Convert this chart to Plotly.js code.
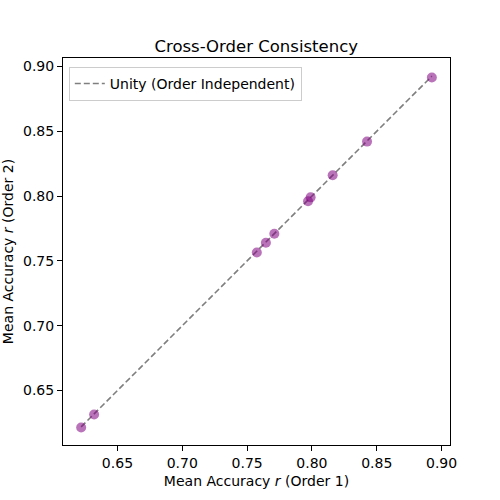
<!DOCTYPE html>
<html>
<head>
<meta charset="utf-8">
<script src="https://cdn.plot.ly/plotly-3.0.1.min.js"></script>
<style>body{margin:0;padding:0;background:#fff}</style>
</head>
<body>
<div id="graph" style="width:500px;height:500px"></div>
<script>
// mean accuracy r per model, order 1 vs order 2
var order1 = [0.622, 0.632, 0.7575, 0.7645, 0.771, 0.797, 0.799, 0.816, 0.8425, 0.8925];
var order2 = [0.6215, 0.6315, 0.7565, 0.764, 0.771, 0.796, 0.799, 0.816, 0.842, 0.8915];
var unityX = [0.622, 0.8925];
var xTicks = [0.65, 0.70, 0.75, 0.80, 0.85, 0.90];

var pts = {
    x: order1,
    y: order2,
    mode: 'markers',
    type: 'scatter',
    showlegend: false,
    marker: {color: 'rgba(128,0,128,0.55)', size: 10, line: {width: 0}}
};

var unity = {
    x: unityX,
    y: unityX,
    mode: 'lines',
    type: 'scatter',
    name: 'Unity (Order Independent)',
    line: {color: 'rgba(0,0,0,0.5)', width: 1.6, dash: '6px,3px'}
};

var axisBase = {
    range: [0.608, 0.9065],
    showgrid: false,
    zeroline: false,
    showline: true,
    linecolor: 'black',
    linewidth: 1,
    mirror: true,
    ticks: 'outside',
    ticklen: 5,
    tickcolor: 'black',
    tickvals: xTicks,
    tickformat: '.2f',
    tickfont: {size: 14, color: 'black'}
};

var layout = {
    width: 500,
    height: 500,
    font: {family: 'DejaVu Sans', color: 'black'},
    paper_bgcolor: 'white',
    plot_bgcolor: 'white',
    margin: {l: 63, r: 50, t: 58, b: 55},
    title: {text: 'Cross-Order Consistency', font: {size: 16.5}, x: 0.5125, xanchor: 'center', y: 0.908, yanchor: 'middle'},
    xaxis: Object.assign({}, axisBase, {title: {text: 'Mean Accuracy <i>r</i> (Order 1)', font: {size: 14}, standoff: 6}}),
    yaxis: Object.assign({}, axisBase, {title: {text: 'Mean Accuracy <i>r</i> (Order 2)', font: {size: 14}, standoff: 6}}),
    legend: {
        x: 0.015, y: 0.977, xanchor: 'left', yanchor: 'top',
        bgcolor: 'rgba(255,255,255,0.8)',
        bordercolor: '#cccccc',
        borderwidth: 1,
        font: {size: 14}
    }
};

Plotly.newPlot('graph', [unity, pts], layout, {displayModeBar: false});
</script>
</body>
</html>
